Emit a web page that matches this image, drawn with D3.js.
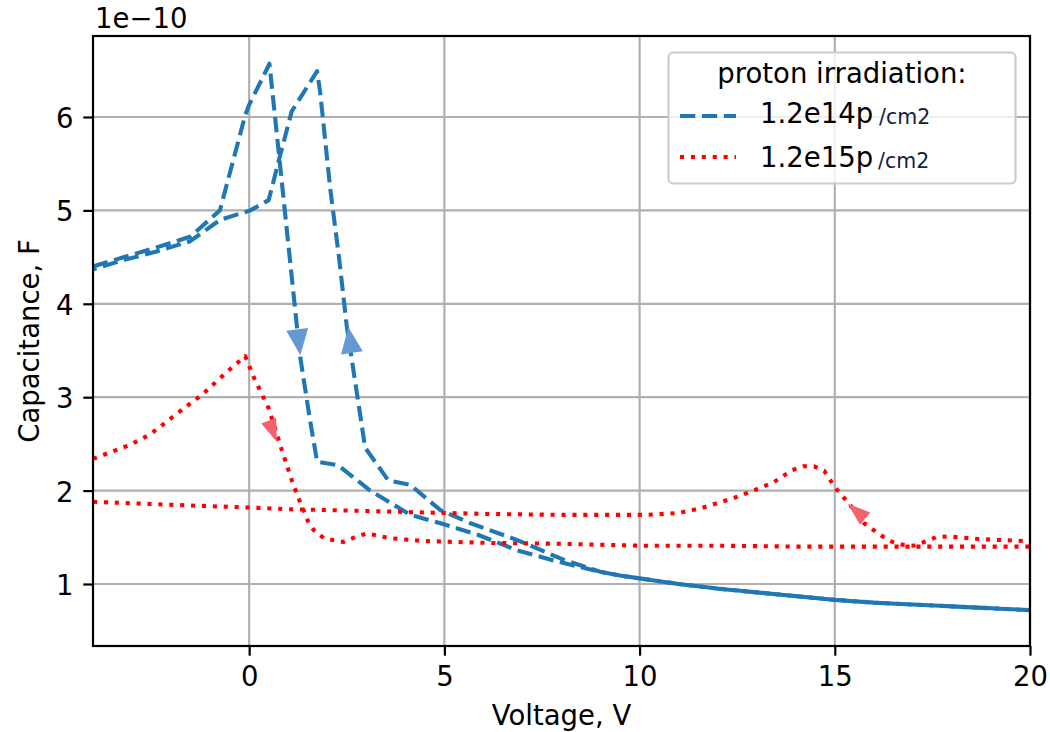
<!DOCTYPE html>
<html><head><meta charset="utf-8">
<script src="https://cdn.jsdelivr.net/npm/d3@7"></script>
<style>
body{margin:0;background:#fff}
svg{display:block}
text{font-family:"DejaVu Sans",sans-serif;fill:#000}
</style>
</head><body>
<svg id="chart" width="1050" height="732"></svg>
<script>
// ---------- data (Voltage in V, Capacitance in units of 1e-10 F) ----------
// 1.2e14 p/cm2, forward sweep (arrow down)
const blueFwdV = [-4.0, -3.2, -2.4, -1.5, -0.75, -0.1, 0.0, 0.52, 0.8, 1.05, 1.3, 1.56, 1.74, 2.28, 3.1, 4.13, 4.9, 5.84, 6.86, 7.9, 8.5];
const blueFwdC = [4.40, 4.50, 4.60, 4.72, 5.00, 6.02, 6.13, 6.57, 5.45, 4.45, 3.45, 2.75, 2.31, 2.27, 2.00, 1.74, 1.65, 1.53, 1.36, 1.24, 1.18];
// 1.2e14 p/cm2, backward sweep (arrow up)
const blueBwdV = [-4.0, -3.2, -2.37, -1.51, -0.74, 0.03, 0.5, 0.8, 1.09, 1.74, 1.82, 2.08, 2.3, 2.5, 2.97, 3.56, 4.13, 4.9, 5.67, 6.87, 8.05];
const blueBwdC = [4.37, 4.47, 4.56, 4.67, 4.90, 5.00, 5.11, 5.60, 6.06, 6.49, 6.26, 5.22, 4.50, 3.76, 2.46, 2.11, 2.06, 1.79, 1.65, 1.47, 1.26];
// common tail of both 1.2e14 sweeps
const blueTailV = [9, 9.5, 10, 10.5, 11, 12, 13, 14, 15, 16, 17, 18, 19, 20];
const blueTailC = [1.13, 1.09, 1.06, 1.03, 1.00, 0.95, 0.91, 0.87, 0.83, 0.80, 0.78, 0.76, 0.74, 0.72];
// 1.2e15 p/cm2, forward sweep
const redFwdV = [-4.0, -3.05, -2.54, -1.86, -1.17, -0.57, -0.1, 0.11, 0.5, 0.84, 1.1, 1.31, 1.51, 1.65, 1.91, 2.42, 2.76, 3.02, 3.62, 4.46, 6.09, 8, 10, 12, 14, 16, 18, 20];
const redFwdC = [2.34, 2.49, 2.60, 2.82, 3.04, 3.27, 3.44, 3.22, 2.88, 2.43, 2.10, 1.87, 1.67, 1.58, 1.49, 1.45, 1.51, 1.54, 1.49, 1.46, 1.44, 1.43, 1.41, 1.41, 1.40, 1.40, 1.40, 1.40];
// 1.2e15 p/cm2, backward sweep
const redBwdV = [-4.0, -1.51, -0.1, 1.05, 2.16, 5.03, 6.09, 8, 10.2, 11.0, 11.56, 12.41, 12.92, 13.44, 13.91, 14.2, 14.47, 14.73, 15.03, 15.24, 15.5, 15.75, 16.22, 16.48, 16.74, 17.03, 17.29, 17.59, 17.89, 18.74, 19.85, 20];
const redBwdC = [1.88, 1.84, 1.82, 1.80, 1.79, 1.76, 1.75, 1.74, 1.74, 1.76, 1.81, 1.92, 2.00, 2.09, 2.22, 2.26, 2.26, 2.21, 2.02, 1.92, 1.79, 1.65, 1.51, 1.45, 1.42, 1.41, 1.45, 1.50, 1.51, 1.48, 1.46, 1.46];
// direction arrows (from -> to, data units)
const arrowFromV = [1.23, 2.64, 0.50, 15.78];
const arrowFromC = [3.73, 3.45, 2.75, 1.70];
const arrowToV   = [1.31, 2.54, 0.71, 15.33];
const arrowToC   = [3.45, 3.75, 2.52, 1.86];
const arrowSeries = ["blue", "blue", "red", "red"];
// ticks & labels
const xTicks = [0, 5, 10, 15, 20];
const yTicks = [1, 2, 3, 4, 5, 6];
const xLabel = "Voltage, V";
const yLabel = "Capacitance, F";
const offsetLabel = "1e\u221210";
const legendTitle = "proton irradiation:";
const legendLabels = ["1.2e14p", "1.2e15p"];
const legendUnit = "/cm2";

// ---------- drawing ----------
const FS = 27.5;
const svg = d3.select("#chart");
const M = {left: 93, right: 1030, top: 36, bottom: 646};
const x = d3.scaleLinear().domain([-4, 20]).range([M.left, M.right]);
const y = d3.scaleLinear().domain([0.336, 6.867]).range([M.bottom, M.top]);
const zip = (a, b) => a.map((v, i) => [v, b[i]]);
const line = d3.line().x(d => x(d[0])).y(d => y(d[1]));

svg.append("rect").attr("width", 1050).attr("height", 732).attr("fill", "#fff");
svg.append("defs").append("clipPath").attr("id", "clip")
  .append("rect").attr("x", M.left).attr("y", M.top)
  .attr("width", M.right - M.left).attr("height", M.bottom - M.top);

// grid
const grid = svg.append("g").attr("stroke", "#b0b0b0").attr("stroke-width", 2.2);
grid.selectAll("line.gx").data(xTicks).join("line").attr("class", "gx")
  .attr("x1", d => x(d)).attr("x2", d => x(d)).attr("y1", M.top).attr("y2", M.bottom);
grid.selectAll("line.gy").data(yTicks).join("line").attr("class", "gy")
  .attr("y1", d => y(d)).attr("y2", d => y(d)).attr("x1", M.left).attr("x2", M.right);

// lines
const plot = svg.append("g").attr("clip-path", "url(#clip)");
const blueColor = "#1f77b4", redColor = "#ff0000";
const blueDash = [15.3, 6.6], redDash = [4.1, 6.8];
const ptsA = zip(blueFwdV, blueFwdC).concat(zip(blueTailV, blueTailC));
const ptsB = zip(blueBwdV, blueBwdC).concat(zip(blueTailV, blueTailC));
function lenTo(pts, n) {
  const p = svg.append("path").attr("d", line(pts.slice(0, n + 1)));
  const L = p.node().getTotalLength(); p.remove(); return L;
}
const P = blueDash[0] + blueDash[1];
const LA = lenTo(ptsA, blueFwdV.length), LB = lenTo(ptsB, blueBwdV.length);
const offB = (((LA - LB + 11) % P) + P) % P;

function drawLine(pts, color, dash, offset) {
  plot.append("path").attr("d", line(pts)).attr("fill", "none")
    .attr("stroke", color).attr("stroke-width", 4.1)
    .attr("stroke-dasharray", dash.join(","))
    .attr("stroke-dashoffset", offset || 0)
    .attr("stroke-linecap", "butt").attr("stroke-linejoin", "round");
}
drawLine(ptsA, blueColor, blueDash, 0);
drawLine(ptsB, blueColor, blueDash, offB);
drawLine(zip(redFwdV, redFwdC), redColor, redDash, 0);
drawLine(zip(redBwdV, redBwdC), redColor, redDash, 0);

// arrows
const arrowStyle = {blue: {fill: "#6699d2", len: 26, w: 22}, red: {fill: "#f4636c", len: 23, w: 16}};
arrowFromV.forEach((v, i) => {
  const s = arrowStyle[arrowSeries[i]];
  const x0 = x(v), y0 = y(arrowFromC[i]), x1 = x(arrowToV[i]), y1 = y(arrowToC[i]);
  const dx = x1 - x0, dy = y1 - y0, n = Math.hypot(dx, dy);
  const ux = dx / n, uy = dy / n;
  const bx = x1 - ux * s.len, by = y1 - uy * s.len;
  const px = -uy * s.w / 2, py = ux * s.w / 2;
  plot.append("path")
    .attr("d", `M${x1},${y1}L${bx + px},${by + py}L${bx - px},${by - py}Z`)
    .attr("fill", s.fill);
});

// axes
const xAxis = svg.append("g").attr("transform", `translate(0,${M.bottom})`)
  .call(d3.axisBottom(x).tickValues(xTicks).tickSize(9.7).tickPadding(9.7).tickFormat(d3.format("d")));
xAxis.select(".domain").remove();
xAxis.selectAll(".tick line").attr("stroke", "#000").attr("stroke-width", 2.2);
xAxis.selectAll(".tick text").attr("y", 40.4).attr("dy", 0)
  .style("font-family", "DejaVu Sans").style("font-size", FS + "px").attr("fill", "#000");

const yAxis = svg.append("g").attr("transform", `translate(${M.left},0)`)
  .call(d3.axisLeft(y).tickValues(yTicks).tickSize(9.7).tickPadding(9.7).tickFormat(d3.format("d")));
yAxis.select(".domain").remove();
yAxis.selectAll(".tick line").attr("stroke", "#000").attr("stroke-width", 2.2);
yAxis.selectAll(".tick text").attr("dy", 10.5)
  .style("font-family", "DejaVu Sans").style("font-size", FS + "px").attr("fill", "#000");

// spines
svg.append("rect").attr("x", M.left).attr("y", M.top)
  .attr("width", M.right - M.left).attr("height", M.bottom - M.top)
  .attr("fill", "none").attr("stroke", "#000").attr("stroke-width", 2.2);

// labels
svg.append("text").attr("x", 95).attr("y", 28.3).style("font-size", FS + "px").text(offsetLabel);
svg.append("text").attr("x", (M.left + M.right) / 2).attr("y", 725)
  .attr("text-anchor", "middle").style("font-size", FS + "px").text(xLabel);
svg.append("text").attr("transform", `translate(38.5,${(M.top + M.bottom) / 2}) rotate(-90)`)
  .attr("text-anchor", "middle").style("font-size", FS + "px").text(yLabel);

// legend
const lg = svg.append("g");
lg.append("rect").attr("x", 668.5).attr("y", 52.5).attr("width", 347).attr("height", 131)
  .attr("rx", 5).attr("fill", "#fff").attr("fill-opacity", 0.8)
  .attr("stroke", "#cccccc").attr("stroke-width", 2.2);
lg.append("text").attr("x", 842).attr("y", 83.3).attr("text-anchor", "middle")
  .style("font-size", FS + "px").text(legendTitle);
const legendColors = [blueColor, redColor], legendDash = [blueDash, redDash];
const rowLineY = [116, 157], rowTextY = [123.3, 167];
legendLabels.forEach((lab, i) => {
  lg.append("line").attr("x1", 680).attr("x2", 736).attr("y1", rowLineY[i]).attr("y2", rowLineY[i])
    .attr("stroke", legendColors[i]).attr("stroke-width", 4.1)
    .attr("stroke-dasharray", legendDash[i].join(","));
  const t = lg.append("text").attr("x", 760).attr("y", rowTextY[i]).style("font-size", FS + "px");
  t.append("tspan").text(lab);
  t.append("tspan").attr("dx", 6 - i).attr("dy", 1).style("font-size", "20.5px")
    .attr("fill", "#14223d").text(legendUnit);
});
</script>
</body></html>
